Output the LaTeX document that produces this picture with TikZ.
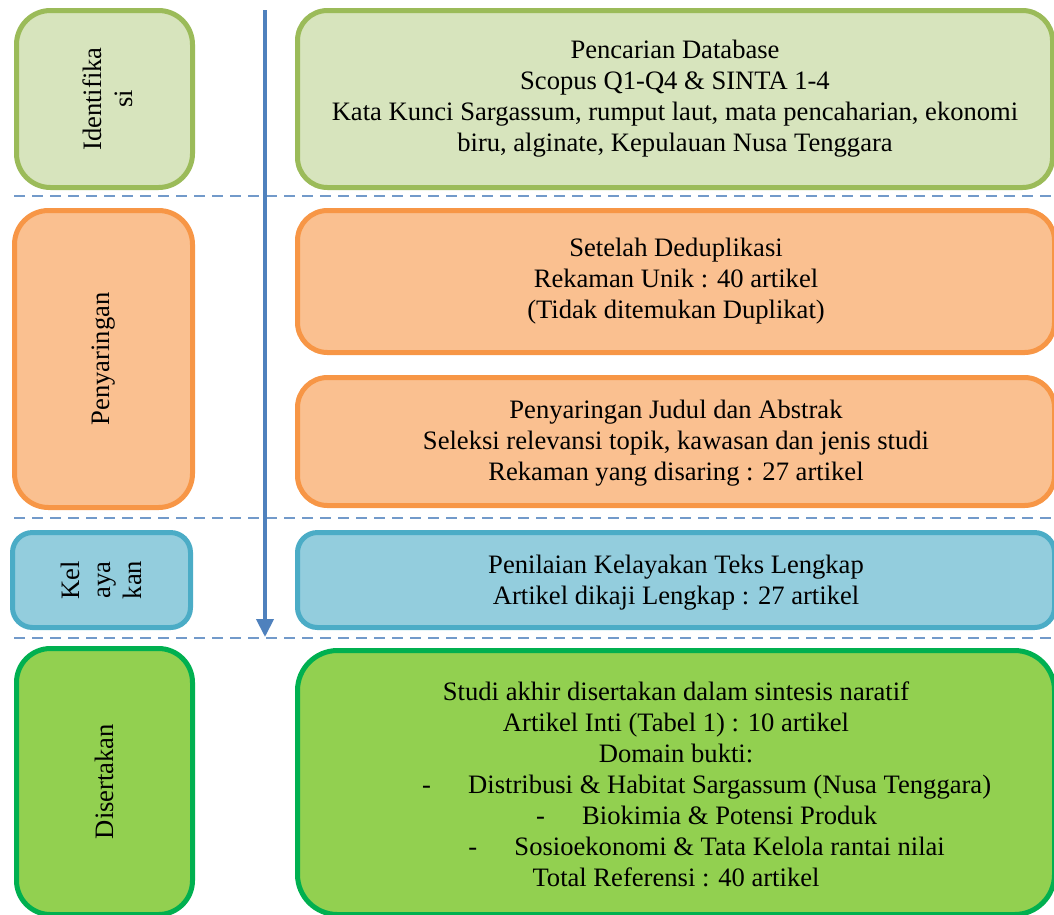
\documentclass[tikz,border=0pt]{standalone}
\usepackage{fontspec}
\setmainfont{Liberation Serif}
\usepackage{xcolor}
\usetikzlibrary{positioning,calc,arrows.meta}
\definecolor{idfill}{HTML}{D7E4BD}
\definecolor{iddraw}{HTML}{9BBB59}
\definecolor{scrfill}{HTML}{FAC090}
\definecolor{scrdraw}{HTML}{F79646}
\definecolor{elfill}{HTML}{93CDDD}
\definecolor{eldraw}{HTML}{4BACC6}
\definecolor{incfill}{HTML}{92D050}
\definecolor{incdraw}{HTML}{00B050}
\definecolor{flowblue}{HTML}{4F81BD}

\begin{document}
\begin{tikzpicture}[x=1pt,y=-1pt,
    stagebox/.style={draw, line width=5pt, rounded corners=30pt, anchor=north west, inner sep=0pt},
    label/.style={font=\fontsize{26.6}{31}\selectfont, align=center, inner sep=0pt},
    sep/.style={flowblue!80, line width=1.8pt, dash pattern=on 11pt off 7pt}]
    \useasboundingbox (0,0) rectangle (1054,914);
    % Identifikasi
    \node[stagebox, rounded corners=34pt, fill=idfill, draw=iddraw, minimum width=176, minimum height=177] (idbox) at (14,8) {};
    \node[label, rotate=90] (idtext) at ($(idbox.center)+(3,0)$) {Identifika\\si};
    \node[stagebox, fill=idfill, draw=iddraw, minimum width=755, minimum height=177] (search) at (295,8) {};
    \node[label] (searchtext) at (search.center) {Pencarian Database\\Scopus Q1-Q4 \& SINTA 1-4\\Kata Kunci Sargassum, rumput laut, mata pencaharian, ekonomi\\biru, alginate, Kepulauan Nusa Tenggara};
    % Penyaringan
    \node[stagebox, rounded corners=34pt, fill=scrfill, draw=scrdraw, minimum width=178, minimum height=297] (scrbox) at (12,208) {};
    \node[label, rotate=90] (scrtext) at (scrbox.center) {Penyaringan};
    \node[stagebox, fill=scrfill, draw=scrdraw, minimum width=757, minimum height=142] (dedup) at (295,208) {};
    \node[label] (deduptext) at (dedup.center) {Setelah Deduplikasi\\Rekaman Unik : 40 artikel\\(Tidak ditemukan Duplikat)};
    \node[stagebox, fill=scrfill, draw=scrdraw, minimum width=757, minimum height=128] (title) at (295,375) {};
    \node[label] (titletext) at ($(title.center)+(0,2)$) {Penyaringan Judul dan Abstrak\\Seleksi relevansi topik, kawasan dan jenis studi\\Rekaman yang disaring : 27 artikel};
    % Kelayakan
    \node[stagebox, rounded corners=20pt, fill=elfill, draw=eldraw, minimum width=178, minimum height=95] (elbox) at (10,530) {};
    \node[label, rotate=90] (eltext) at (elbox.center) {Kel\\aya\\kan};
    \node[stagebox, rounded corners=20pt, fill=elfill, draw=eldraw, minimum width=757, minimum height=95] (full) at (295,530) {};
    \node[label] (fulltext) at ($(full.center)+(0,3)$) {Penilaian Kelayakan Teks Lengkap\\Artikel dikaji Lengkap : 27 artikel};
    % Disertakan
    \node[stagebox, rounded corners=34pt, fill=incfill, draw=incdraw, minimum width=176, minimum height=266] (incbox) at (14,646) {};
    \node[label, rotate=90] (inctext) at (incbox.center) {Disertakan};
    \node[stagebox, rounded corners=40pt, fill=incfill, draw=incdraw, minimum width=757, minimum height=264] (final) at (295,648) {};
    \node[label] (finaltext) at ($(final.center)+(0,2)$) {Studi akhir disertakan dalam sintesis naratif\\Artikel Inti (Tabel 1) : 10 artikel\\Domain bukti:\\
        \hspace*{2.3em}-\hspace{1.4em}Distribusi \& Habitat Sargassum (Nusa Tenggara)\\
        \hspace*{2.3em}-\hspace{1.4em}Biokimia \& Potensi Produk\\
        \hspace*{2.3em}-\hspace{1.4em}Sosioekonomi \& Tata Kelola rantai nilai\\
        Total Referensi : 40 artikel};
    % stage separators
    \draw[sep] (14,196) -- (1054,196);
    \draw[sep] (14,518) -- (1054,518);
    \draw[sep] (14,638) -- (1054,638);
    % flow arrow
    \coordinate (flowtop) at (265,10);
    \coordinate (flowend) at (265,637);
    \draw[flowblue, line width=4pt, -{Triangle[length=18pt,width=17pt]}] (flowtop) -- (flowend);
\end{tikzpicture}
\end{document}
